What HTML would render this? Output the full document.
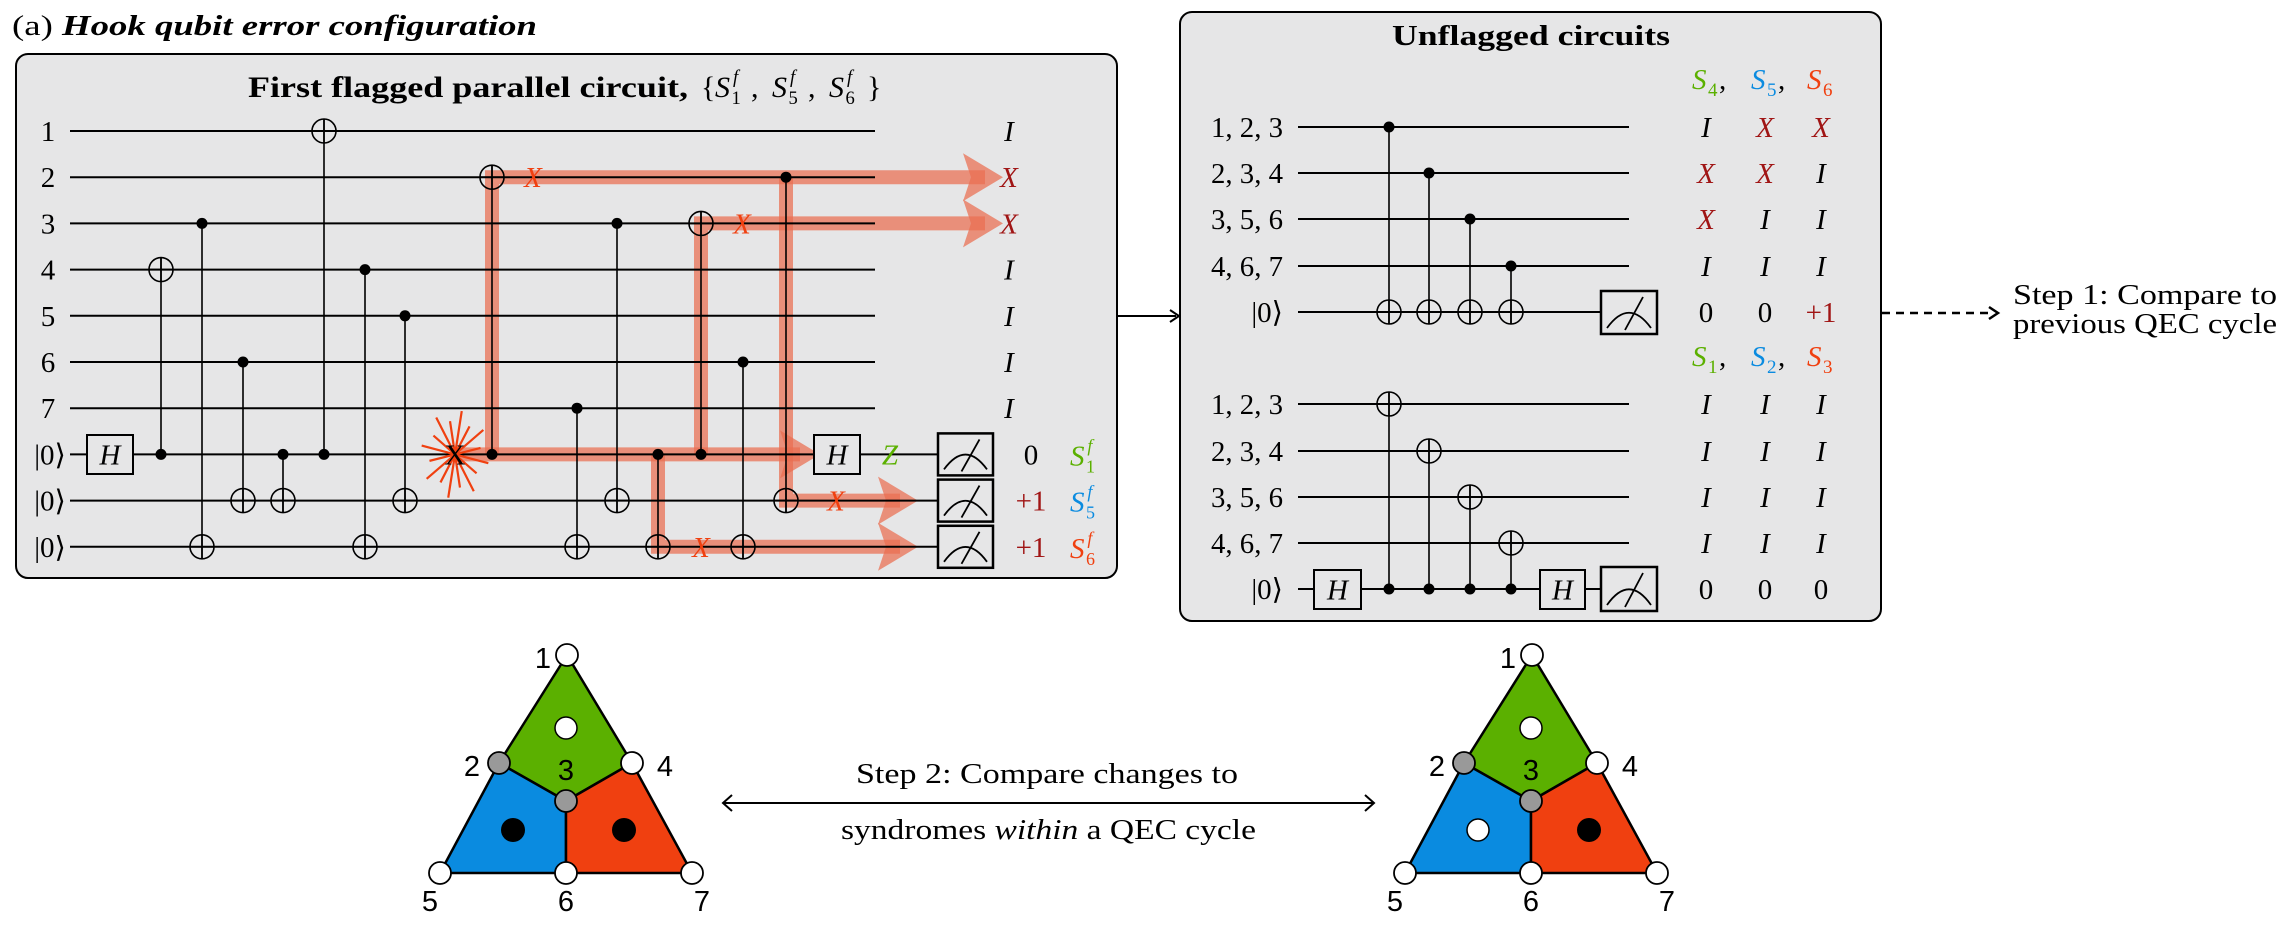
<!DOCTYPE html>
<html><head><meta charset="utf-8">
<style>
html,body{margin:0;padding:0;background:#fff;}
svg{display:block;}
text{font-family:"Liberation Serif",serif;}
.it{font-style:italic;}
.sans{font-family:"Liberation Sans",sans-serif;}
</style></head>
<body>
<svg id="fig" width="2290" height="944" viewBox="0 0 2290 944" xmlns="http://www.w3.org/2000/svg">
<text x="12" y="35" font-size="29" textLength="525" lengthAdjust="spacingAndGlyphs"><tspan>(a) </tspan><tspan class="it" font-weight="bold">Hook qubit error configuration</tspan></text>
<rect x="16" y="54" width="1101" height="524" rx="12" fill="#e6e6e7" stroke="#000" stroke-width="2"/>
<g id="ltitle"></g>
<g id="left"></g>
<rect x="1180" y="12" width="701" height="609" rx="12" fill="#e6e6e7" stroke="#000" stroke-width="2"/>
<text x="1392" y="45" font-size="29" font-weight="bold" textLength="278" lengthAdjust="spacingAndGlyphs">Unflagged circuits</text>
<g id="right"></g>
<line x1="1117" y1="316" x2="1176" y2="316" stroke="#000" stroke-width="2"/>
<path d="M1170 310 L1179 316 L1170 322" fill="none" stroke="#000" stroke-width="2"/>
<line x1="1882" y1="313" x2="1994" y2="313" stroke="#000" stroke-width="2.5" stroke-dasharray="8,6"/>
<path d="M1989 307 L1998 313 L1989 319" fill="none" stroke="#000" stroke-width="2.5"/>
<text x="2013" y="304" font-size="28" textLength="264" lengthAdjust="spacingAndGlyphs">Step 1: Compare to</text>
<text x="2013" y="333" font-size="28" textLength="264" lengthAdjust="spacingAndGlyphs">previous QEC cycle</text>
<line x1="724" y1="803" x2="1373" y2="803" stroke="#000" stroke-width="2"/>
<path d="M732 795 L723 803 L732 811 M1365 795 L1374 803 L1365 811" fill="none" stroke="#000" stroke-width="2"/>
<text x="856" y="783" font-size="28" textLength="382" lengthAdjust="spacingAndGlyphs">Step 2: Compare changes to</text>
<text x="841" y="839" font-size="28" textLength="415" lengthAdjust="spacingAndGlyphs">syndromes <tspan class="it">within</tspan> a QEC cycle</text>
<g id="tris"></g>
</svg>
<script>
const NS="http://www.w3.org/2000/svg";
function mk(p,tag,at,txt){const e=document.createElementNS(NS,tag);for(const k in at)e.setAttribute(k,at[k]);if(txt!==undefined)e.textContent=txt;p.appendChild(e);return e;}
const RED="#f04010",GRN="#5bb000",BLU="#0a8be0",DRK="#a01515",ORG="rgba(234,110,80,0.72)";
const FS=29;
function Sf(p,x,y,n,col,fs){ // S with subscript n and superscript f
 mk(p,'text',{x:x,y:y,'font-size':fs,class:'it',fill:col},'S');
 mk(p,'text',{x:x+fs*0.55,y:y+7,'font-size':fs*0.62,fill:col},n);
 mk(p,'text',{x:x+fs*0.6,y:y-14,'font-size':fs*0.62,class:'it',fill:col},'f');}
// title of left box
const LT=document.getElementById('ltitle');
mk(LT,'text',{x:248,y:97,'font-size':30,'font-weight':'bold',textLength:440,lengthAdjust:'spacingAndGlyphs'},'First flagged parallel circuit,');
mk(LT,'text',{x:701,y:97,'font-size':30},'{');
Sf(LT,715,97,'1','#000',30);mk(LT,'text',{x:751,y:97,'font-size':30},',');
Sf(LT,772,97,'5','#000',30);mk(LT,'text',{x:808,y:97,'font-size':30},',');
Sf(LT,829,97,'6','#000',30);mk(LT,'text',{x:867,y:97,'font-size':30},'}');

// ---------- left circuit data ----------
const rowLabels=["1","2","3","4","5","6","7","|0⟩","|0⟩","|0⟩"];
const leftGateX=[161,202,243,283,324,365,405,492,577,617,658,701,743,786];
const leftCtrl =[7,2,5,7,7,3,4,7,6,2,7,7,5,1];
const leftTgt  =[3,9,8,8,0,9,8,1,9,8,9,2,9,8];
const outPauli=["I","X","X","I","I","I","I"];
const outVals=["0","+1","+1"];
const rowY=i=>131+i*46.2;
const L=document.getElementById('left');
const og=mk(L,'g',{});


const paths=[
 [[455,rowY(7)],[800,rowY(7)]],
 [[492,rowY(7)],[492,rowY(1)],[985,rowY(1)]],
 [[658,rowY(7)],[658,rowY(9)],[900,rowY(9)]],
 [[701,rowY(7)],[701,rowY(2)],[985,rowY(2)]],
 [[786,rowY(1)],[786,rowY(8)],[900,rowY(8)]]];
paths.forEach(p=>{mk(og,'polyline',{points:p.map(q=>q.join(',')).join(' '),fill:'none',stroke:ORG,'stroke-width':14,'stroke-linejoin':'miter'});
 const e=p[p.length-1];const tx=e[0]+(e[1]===rowY(7)?18:16),y=e[1];
 mk(og,'polygon',{points:`${tx-38},${y-24} ${tx+2},${y} ${tx-38},${y+24} ${tx-30},${y}`,fill:ORG});});
rowLabels.forEach((lab,i)=>{const y=rowY(i);
 const t=mk(L,'text',{x:i<7?48:50,y:y+10,'font-size':FS,'text-anchor':'middle'},lab);
 
 
 const w=mk(L,'line',{x1:70,y1:y,x2:i<7?875:938,y2:y,stroke:'#000','stroke-width':2});
 
 
});
function cnot(g,x,c,t,yf,rt){const yc=yf(c),yt=yf(t);
 mk(g,'line',{x1:x,y1:yc,x2:x,y2:yt+(yt>yc?rt:-rt),stroke:'#000','stroke-width':1.6});
 mk(g,'circle',{cx:x,cy:yc,r:5.5,fill:'#000'});
 mk(g,'circle',{cx:x,cy:yt,r:rt,fill:'none',stroke:'#000','stroke-width':1.6});
 mk(g,'line',{x1:x-rt,y1:yt,x2:x+rt,y2:yt,stroke:'#000','stroke-width':1.6});
 mk(g,'line',{x1:x,y1:yt-rt,x2:x,y2:yt+rt,stroke:'#000','stroke-width':1.6});}
leftGateX.forEach((x,k)=>{const g=mk(L,'g',{});
 
 
 cnot(g,x,leftCtrl[k],leftTgt[k],rowY,12);});
function hbox(p,x,y,w,h){const g=mk(p,'g',{});
 
 
 mk(g,'rect',{x:x,y:y,width:w,height:h,fill:'#e6e6e7',stroke:'#000','stroke-width':2});
 mk(g,'text',{x:x+w/2,y:y+h/2+10,'font-size':FS,'text-anchor':'middle',class:'it'},'H');}
function meas(p,x,y,w,h){const g=mk(p,'g',{});
 
 
 mk(g,'rect',{x:x,y:y,width:w,height:h,fill:'#e6e6e7',stroke:'#000','stroke-width':2.5});
 mk(g,'path',{d:`M${x+6} ${y+h-6} Q${x+w/2} ${y+h*0.15} ${x+w-6} ${y+h-6}`,fill:'none',stroke:'#000','stroke-width':1.8});
 mk(g,'line',{x1:x+w/2-4,y1:y+h-4,x2:x+w/2+14,y2:y+6,stroke:'#000','stroke-width':1.8});}
hbox(L,87,435,46,39);hbox(L,814,435,46,39);
[7,8,9].forEach(i=>meas(L,938,rowY(i)-21,55,42));
mk(L,'text',{x:890,y:rowY(7)+10,'font-size':FS,'text-anchor':'middle',fill:GRN,class:'it'},'Z');
const st=mk(L,'g',{});


for(let a=0;a<16;a++){const an=a*Math.PI/8+0.2,r=(a%2?26:34);
 mk(st,'line',{x1:455,y1:rowY(7),x2:455+r*Math.cos(an),y2:rowY(7)+r*Math.sin(an)*1.3,stroke:RED,'stroke-width':2.2});}
mk(st,'text',{x:455,y:rowY(7)+10,'font-size':FS,'text-anchor':'middle'},'X');
[[533,1],[742,2],[836,8],[701,9]].forEach(([x,r])=>{const t=mk(L,'text',{x:x,y:rowY(r)+10,'font-size':FS,'text-anchor':'middle',fill:RED,class:'it'},'X');
 
 });
outPauli.forEach((p,i)=>{const t=mk(L,'text',{x:1009,y:rowY(i)+10,'font-size':FS,'text-anchor':'middle',class:'it',fill:p==='X'?DRK:'#000'},p);
 
 });
const sNames=["1","5","6"],sCols=[GRN,BLU,RED];
outVals.forEach((v,i)=>{const y=rowY(7+i);
 const t=mk(L,'text',{x:1031,y:y+10,'font-size':FS,'text-anchor':'middle',fill:v==='0'?'#000':DRK},v);
 
 
 const s=mk(L,'g',{});
 
 
 Sf(s,1070,y+11,sNames[i],sCols[i],FS);});

// ---------- right circuits ----------
const R=document.getElementById('right');
const qLabels=["1, 2, 3","2, 3, 4","3, 5, 6","4, 6, 7","|0⟩"];
const upY=[127,173,219,266,312], loY=[404,451,497,543,589];
const rGateX=[1389,1429,1470,1511];
const upTable=[["I","X","X"],["X","X","I"],["X","I","I"],["I","I","I"],["0","0","+1"]];
const loTable=[["I","I","I"],["I","I","I"],["I","I","I"],["I","I","I"],["0","0","0"]];
const colX=[1706,1765,1821];
const upHeads=["4","5","6"],loHeads=["1","2","3"];
function block(Y,table,heads,hy,xFirst){
 qLabels.forEach((lab,i)=>{const at={x:1283,y:Y[i]+10,'font-size':FS,'text-anchor':'end'};
  if(i<4){at.textLength=72;at.lengthAdjust='spacingAndGlyphs';}
  const t=mk(R,'text',at,lab);
  
  
  const w=mk(R,'line',{x1:1298,y1:Y[i],x2:i<4?1629:1601,y2:Y[i],stroke:'#000','stroke-width':2});
  
  });
 rGateX.forEach((x,k)=>{const g=mk(R,'g',{});
  
  
  if(xFirst) cnot(g,x,k,4,i=>Y[i],12); else cnot(g,x,4,k,i=>Y[i],12);});
 table.forEach((row,i)=>row.forEach((v,j)=>{const t=mk(R,'text',{x:colX[j],y:Y[i]+10,'font-size':FS,'text-anchor':'middle',class:(v==='I'||v==='X')?'it':'',fill:(v==='X'||v==='+1')?DRK:'#000'},v);
  
  }));
 heads.forEach((h,j)=>{const s=mk(R,'g',{});
  
  
  const x0=colX[j]-14;
  mk(s,'text',{x:x0,y:hy+9,'font-size':FS,class:'it',fill:sCols[j]},'S');
  mk(s,'text',{x:x0+16,y:hy+16,'font-size':19,fill:sCols[j]},h);
  if(j<2) mk(s,'text',{x:x0+27,y:hy+9,'font-size':FS},',');});
}
block(upY,upTable,upHeads,80,true);
meas(R,1601,291,56,43);
block(loY,loTable,loHeads,357,false);
hbox(R,1314,570,47,39);hbox(R,1540,570,45,39);
meas(R,1601,567,56,44);

// ---------- triangles ----------
const T=document.getElementById('tris');
const triOffsets=[0,965];
const plaqStates=[[0,1,1],[0,0,1]];
function tri(dx,st,idx){const g=mk(T,'g',{});
 
 
 const P={1:[567,655],2:[499,763],3:[566,801],4:[632,763],5:[440,873],6:[566,873],7:[692,873]};
 for(const k in P)P[k]=[P[k][0]+dx,P[k][1]];
 const poly=(ks,c)=>mk(g,'polygon',{points:ks.map(k=>P[k].join(',')).join(' '),fill:c,stroke:'#000','stroke-width':2.5,'stroke-linejoin':'round'});
 poly([1,4,3,2],GRN);poly([2,3,6,5],"#0a8be0");poly([3,4,7,6],RED);
 const cen=[[566,728],[513,830],[624,830]];
 cen.forEach((c,j)=>{const d=mk(g,'circle',{cx:c[0]+dx,cy:c[1],r:st[j]?12:11,fill:st[j]?'#000':'#fff',stroke:'#000','stroke-width':st[j]?0:1.5});
  
  });
 for(const k in P){const gray=(k==='2'||k==='3');
  mk(g,'circle',{cx:P[k][0],cy:P[k][1],r:11,fill:gray?'#999':'#fff',stroke:'#000','stroke-width':1.8});}
 const lab={1:[543,668],2:[472,776],3:[566,780],4:[665,776],5:[430,911],6:[566,911],7:[702,911]};
 for(const k in lab){mk(g,'text',{x:lab[k][0]+dx,y:lab[k][1],'font-size':29,'text-anchor':'middle',class:'sans'},k);}
}
triOffsets.forEach((o,i)=>tri(o,plaqStates[i],i));
</script>
</body></html>
